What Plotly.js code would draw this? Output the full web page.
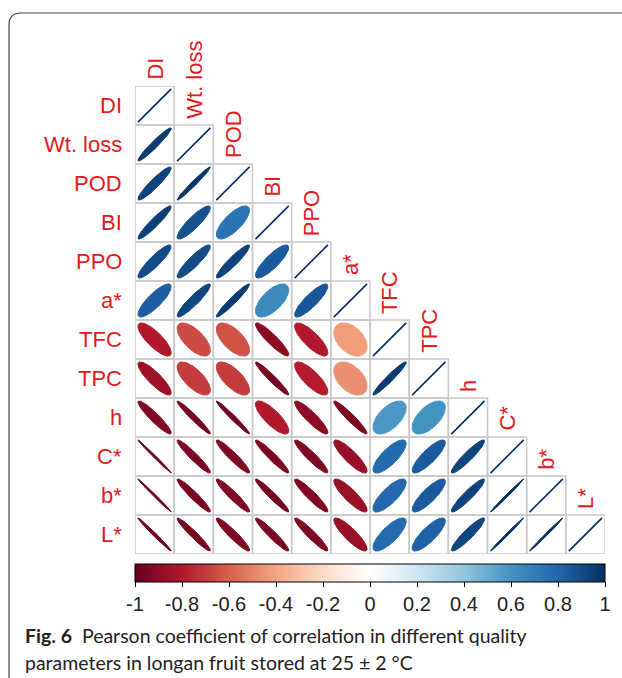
<!DOCTYPE html>
<html><head><meta charset="utf-8">
<script src="https://cdn.plot.ly/plotly-3.0.1.min.js"></script>
<style>html,body{margin:0;padding:0;background:#fff;}#chart{width:622px;height:678px;}</style>
</head><body><div id="chart"></div>
<script>
// ---- data ----
const vars = ["DI","Wt. loss","POD","BI","PPO","a*","TFC","TPC","h","C*","b*","L*"];
const rowDI  = [1];
const rowWt  = [0.96, 1];
const rowPOD = [0.93, 0.98, 1];
const rowBI  = [0.94, 0.88, 0.74, 1];
const rowPPO = [0.90, 0.90, 0.93, 0.84, 1];
const rowA   = [0.83, 0.92, 0.96, 0.64, 0.86, 1];
const rowTFC = [-0.80, -0.66, -0.64, -0.91, -0.80, -0.42, 1];
const rowTPC = [-0.86, -0.70, -0.70, -0.96, -0.79, -0.46, 0.96, 1];
const rowH   = [-0.93, -0.97, -0.98, -0.80, -0.90, -0.95, 0.58, 0.60, 1];
const rowC   = [-0.995, -0.95, -0.94, -0.95, -0.93, -0.87, 0.78, 0.84, 0.93, 1];
const rowB   = [-0.995, -0.95, -0.94, -0.96, -0.93, -0.87, 0.79, 0.84, 0.93, 0.995, 1];
const rowL   = [-0.99, -0.96, -0.94, -0.95, -0.94, -0.87, 0.78, 0.82, 0.92, 0.995, 0.995, 1];
const rows = [rowDI,rowWt,rowPOD,rowBI,rowPPO,rowA,rowTFC,rowTPC,rowH,rowC,rowB,rowL];
const cbTicks = [-1,-0.8,-0.6,-0.4,-0.2,0,0.2,0.4,0.6,0.8,1];
const cbTickText = ["-1","-0.8","-0.6","-0.4","-0.2","0","0.2","0.4","0.6","0.8","1"];

// ---- style ----
const stops = ["#67001F","#B2182B","#D6604D","#F4A582","#FDDBC7","#FFFFFF","#D1E5F0","#92C5DE","#4393C3","#2166AC","#053061"];
const RED = "#e3191c";
const LBLFONT = "Arial";
const W=622,H=678, ML=135, MR=17, MT=86, MB=124;
const PW=W-ML-MR, PH=H-MT-MB;
const px = x => (x-ML)/PW;
const py = y => (H-MB-y)/PH;

function hex2rgb(h){return [1,3,5].map(i=>parseInt(h.substr(i,2),16));}
function colorFor(r){
  const t=(r+1)/2*10; const i=Math.min(9,Math.max(0,Math.floor(t))); const f=t-i;
  const a=hex2rgb(stops[i]), b=hex2rgb(stops[i+1]);
  const c=a.map((v,k)=>Math.round(v+(b[k]-v)*f));
  return `rgb(${c[0]},${c[1]},${c[2]})`;
}

const traces=[], shapes=[], annotations=[];
rows.forEach((row,ri)=>{
  const i=ri+1;
  row.forEach((r,cj)=>{
    const j=cj+1;
    const a=Math.acos(Math.max(-1,Math.min(1,r)));
    const xs=[],ys=[];
    for(let k=0;k<99;k++){
      const t=2*Math.PI*k/98;
      xs.push(j+0.85*Math.cos(t+a/2)/2);
      ys.push(i-0.85*Math.cos(t-a/2)/2);
    }
    const col=colorFor(r);
    traces.push({type:"scatter",mode:"lines",x:xs,y:ys,fill:"toself",fillcolor:col,
      line:{color:col,width:(r===1?1.6:1)},hoverinfo:"skip",showlegend:false});
    shapes.push({type:"rect",xref:"x",yref:"y",x0:j-0.5,x1:j+0.5,y0:i-0.5,y1:i+0.5,
      line:{color:"#c9c9c9",width:1.5},layer:"below"});
  });
});
vars.forEach((v,k)=>{
  const n=k+1;
  annotations.push({xref:"x",yref:"y",x:0.5,y:n,text:v,showarrow:false,xanchor:"right",yanchor:"middle",xshift:-11,
    font:{family:LBLFONT,size:22,color:RED}});
  annotations.push({xref:"x",yref:"y",x:n,y:n-0.5,text:v,showarrow:false,textangle:-90,xanchor:"center",yanchor:"bottom",yshift:4,
    font:{family:LBLFONT,size:22,color:RED}});
});
// caption
annotations.push({xref:"paper",yref:"paper",x:px(23),y:py(635),xanchor:"left",yanchor:"middle",showarrow:false,
  text:"<b>Fig. 6</b>  Pearson coefficient of correlation in different quality",
  font:{family:"Lato, sans-serif",size:19.5,color:"#222"}});
annotations.push({xref:"paper",yref:"paper",x:px(23),y:py(662),xanchor:"left",yanchor:"middle",showarrow:false,
  text:"parameters in longan fruit stored at 25 ± 2 °C",
  font:{family:"Lato, sans-serif",size:19.5,color:"#222"}});
// frame
shapes.push({type:"path",xref:"paper",yref:"paper",
  path:`M ${px(640)},${py(13)} L ${px(21)},${py(13)} Q ${px(9)},${py(13)} ${px(9)},${py(25)} L ${px(9)},${py(690)}`,
  line:{color:"#444",width:1.2}});

// colorbar holder
const cs = stops.map((c,k)=>[k/10,c]);
traces.push({type:"scatter",mode:"markers",x:[null],y:[null],hoverinfo:"skip",showlegend:false,
  marker:{color:[0],cmin:-1,cmax:1,colorscale:cs,showscale:true,
    colorbar:{orientation:"h",x:0.5,xanchor:"center",y:py(564),yanchor:"top",
      len:PW,lenmode:"pixels",thickness:18,thicknessmode:"pixels",xpad:0,ypad:0,
      outlinewidth:1,outlinecolor:"#000",borderwidth:0,
      ticks:"outside",ticklen:5,tickwidth:1,tickcolor:"#000",
      tickvals:cbTicks,ticktext:cbTickText,tickfont:{family:LBLFONT,size:20,color:"#222"}}}});

const layout={width:W,height:H,margin:{l:ML,r:MR,t:MT,b:MB},paper_bgcolor:"#fff",plot_bgcolor:"rgba(0,0,0,0)",
  xaxis:{range:[0.5,12.5],visible:false,fixedrange:true},
  yaxis:{range:[12.5,0.5],visible:false,fixedrange:true},
  shapes, annotations, showlegend:false};
Plotly.newPlot("chart",traces,layout,{staticPlot:true});
</script></body></html>
